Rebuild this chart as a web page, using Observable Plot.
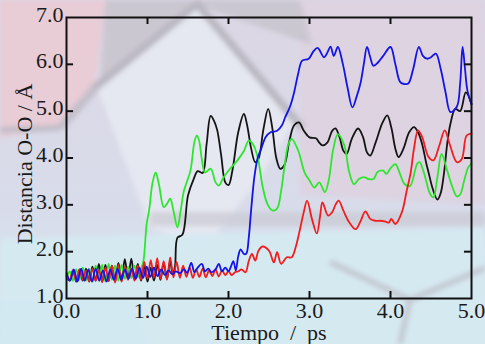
<!DOCTYPE html>
<html><head><meta charset="utf-8">
<script src="https://cdn.jsdelivr.net/npm/d3@7"></script>
<script src="https://cdn.jsdelivr.net/npm/@observablehq/plot@0.6"></script>
<style>
html,body{margin:0;padding:0;}
#wrap{position:relative;width:485px;height:344px;overflow:hidden;}
#decor{position:absolute;left:0;top:0;}
#chart{position:absolute;left:0;top:0;}
#chart svg, #chart svg text{font-family:'Liberation Serif','DejaVu Serif',serif !important;font-size:22px !important;fill:#1a1a1a;}
</style></head>
<body>
<div id="wrap">
<svg id="decor" width="485" height="344" xmlns="http://www.w3.org/2000/svg">
  <defs>
    <linearGradient id="bg" x1="0" y1="0" x2="0" y2="1">
      <stop offset="0" stop-color="#dcd6e4"/>
      <stop offset="0.6" stop-color="#d8dcea"/>
      <stop offset="1" stop-color="#d4e8f0"/>
    </linearGradient>
    <filter id="bl"><feGaussianBlur stdDeviation="2.5"/></filter>
  </defs>
  <rect width="485" height="344" fill="url(#bg)"/>
  <g filter="url(#bl)">
    <polygon points="0,0 105,0 95,85 55,128 0,138" fill="#e8ccd6"/>
    <polygon points="300,0 485,0 485,205 300,195" fill="#ddd3e1"/>
    <polygon points="105,0 300,0 312,45 200,6 100,88" fill="#cbc7d1"/>
    <polygon points="97,88 197,6 295,122 255,185 205,248 150,228" fill="#e5e7f1"/>
    <polyline points="92,90 197,4 302,128" fill="none" stroke="#b9b7c1" stroke-width="8"/>
    <polyline points="60,128 95,88" fill="none" stroke="#c3bfca" stroke-width="8"/>
    <rect x="150" y="212" width="335" height="14" fill="#c9c9d2" opacity="0.7"/>
    <polygon points="0,238 485,228 485,344 0,344" fill="#d5e9f1"/>
    <polygon points="0,300 130,300 150,344 0,344" fill="#d2e9f2"/>
    <polyline points="330,262 410,300 485,268" fill="none" stroke="#c4c8d0" stroke-width="6"/>
    <polyline points="410,300 400,344" fill="none" stroke="#c4c8d0" stroke-width="6"/>
    <polyline points="0,130 60,128" fill="none" stroke="#c0bcc8" stroke-width="6"/>
  </g>
</svg>
<div id="chart"></div>
</div>
<script>
const xTicks = [0, 1, 2, 3, 4, 5];
const yTicks = [1, 2, 3, 4, 5, 6, 7];
const xTitle = "Tiempo\u00a0\u00a0/\u00a0\u00a0ps";
const yTitle = "Distancia O-O / Å";

const black = [[0.00,1.48],[0.04,1.38],[0.08,1.60],[0.12,1.36],[0.16,1.62],[0.20,1.38],[0.24,1.64],[0.28,1.36],[0.32,1.68],[0.36,1.38],[0.40,1.74],[0.44,1.35],[0.48,1.72],[0.52,1.37],[0.56,1.70],[0.60,1.36],[0.64,1.76],[0.68,1.40],[0.72,1.84],[0.76,1.42],[0.80,1.85],[0.84,1.40],[0.88,1.74],[0.92,1.38],[0.96,1.70],[1.00,1.36],[1.04,1.66],[1.08,1.38],[1.12,1.72],[1.16,1.40],[1.20,1.76],[1.24,1.42],[1.28,1.80],[1.31,1.52],[1.34,1.70],[1.37,2.30],[1.43,2.36],[1.50,3.20],[1.57,3.55],[1.62,3.72],[1.68,3.68],[1.73,4.30],[1.78,4.90],[1.82,4.80],[1.86,4.60],[1.91,4.05],[1.96,3.48],[2.00,3.42],[2.05,3.75],[2.12,4.55],[2.19,4.94],[2.23,4.70],[2.28,4.20],[2.33,3.91],[2.37,3.98],[2.43,4.60],[2.49,5.05],[2.54,4.65],[2.59,4.00],[2.64,3.77],[2.69,3.85],[2.75,4.35],[2.81,4.70],[2.87,4.76],[2.93,4.58],[3.00,4.44],[3.08,4.42],[3.12,4.33],[3.16,4.27],[3.22,4.33],[3.28,4.58],[3.32,4.63],[3.37,4.45],[3.42,4.15],[3.46,4.09],[3.52,4.40],[3.60,4.63],[3.66,4.45],[3.71,4.12],[3.75,4.05],[3.82,4.35],[3.90,4.75],[3.96,4.91],[4.01,4.65],[4.06,4.20],[4.10,4.02],[4.16,4.20],[4.23,4.55],[4.29,4.66],[4.34,4.55],[4.39,4.30],[4.44,3.90],[4.47,3.69],[4.52,3.35],[4.58,3.11],[4.62,3.25],[4.66,3.67],[4.70,4.30],[4.74,4.73],[4.80,5.05],[4.86,5.00],[4.93,5.40],[5.00,5.15]];

const green = [[0.00,1.42],[0.04,1.58],[0.08,1.38],[0.12,1.62],[0.16,1.40],[0.20,1.66],[0.24,1.38],[0.28,1.64],[0.32,1.36],[0.36,1.70],[0.40,1.38],[0.44,1.72],[0.48,1.36],[0.52,1.74],[0.56,1.40],[0.60,1.70],[0.64,1.38],[0.68,1.72],[0.72,1.42],[0.76,1.68],[0.80,1.44],[0.84,1.70],[0.88,1.46],[0.92,1.62],[0.95,1.80],[0.99,2.60],[1.02,2.88],[1.06,3.45],[1.10,3.69],[1.14,3.45],[1.20,2.95],[1.24,3.02],[1.28,3.13],[1.32,2.88],[1.37,2.52],[1.41,2.88],[1.45,3.30],[1.53,3.73],[1.58,4.35],[1.61,4.48],[1.64,4.35],[1.67,3.98],[1.71,3.69],[1.78,3.77],[1.84,3.48],[1.88,3.41],[1.94,3.59],[2.02,3.77],[2.11,3.95],[2.19,4.15],[2.25,4.37],[2.30,4.30],[2.36,4.02],[2.42,3.40],[2.48,3.02],[2.54,2.88],[2.60,2.92],[2.65,3.30],[2.69,3.80],[2.74,4.30],[2.78,4.41],[2.86,4.16],[2.94,3.69],[3.00,3.52],[3.06,3.37],[3.12,3.48],[3.19,3.27],[3.24,3.55],[3.29,4.16],[3.35,4.51],[3.43,4.27],[3.49,3.70],[3.55,3.44],[3.61,3.55],[3.67,3.59],[3.73,3.55],[3.79,3.55],[3.84,3.70],[3.91,3.73],[3.95,3.66],[4.00,3.78],[4.06,3.87],[4.12,3.65],[4.17,3.45],[4.24,3.40],[4.33,3.88],[4.36,3.91],[4.41,3.70],[4.49,3.23],[4.53,3.16],[4.58,3.60],[4.63,4.09],[4.70,3.73],[4.76,3.40],[4.82,3.18],[4.86,3.22],[4.91,3.52],[4.96,3.80],[5.00,3.88]];

const red = [[0.00,1.50],[0.04,1.40],[0.08,1.60],[0.12,1.38],[0.16,1.62],[0.20,1.40],[0.24,1.60],[0.28,1.36],[0.32,1.64],[0.36,1.38],[0.40,1.60],[0.44,1.36],[0.48,1.66],[0.52,1.38],[0.56,1.70],[0.60,1.34],[0.64,1.72],[0.68,1.36],[0.72,1.68],[0.76,1.40],[0.80,1.64],[0.84,1.38],[0.88,1.70],[0.92,1.40],[0.96,1.78],[1.00,1.42],[1.04,1.82],[1.08,1.44],[1.12,1.86],[1.16,1.42],[1.20,1.80],[1.24,1.40],[1.28,1.88],[1.32,1.45],[1.36,1.78],[1.40,1.44],[1.44,1.70],[1.48,1.46],[1.52,1.66],[1.56,1.44],[1.60,1.62],[1.64,1.46],[1.68,1.64],[1.72,1.45],[1.76,1.60],[1.80,1.48],[1.84,1.62],[1.88,1.47],[1.92,1.60],[1.96,1.50],[2.00,1.58],[2.04,1.50],[2.08,1.56],[2.12,1.58],[2.16,1.62],[2.21,1.56],[2.25,1.80],[2.29,1.95],[2.33,1.81],[2.37,2.02],[2.42,2.11],[2.50,2.02],[2.56,1.77],[2.60,1.99],[2.65,1.74],[2.72,1.88],[2.78,1.88],[2.83,2.10],[2.87,2.38],[2.93,2.85],[2.97,3.09],[3.03,2.70],[3.09,2.39],[3.13,2.75],[3.16,3.05],[3.23,2.77],[3.28,2.84],[3.32,3.00],[3.36,3.09],[3.42,2.87],[3.49,2.63],[3.57,2.48],[3.63,2.65],[3.69,2.86],[3.75,2.70],[3.81,2.66],[3.87,2.66],[3.94,2.64],[3.98,2.62],[4.01,2.70],[4.06,2.59],[4.14,2.84],[4.20,3.30],[4.25,3.70],[4.29,4.20],[4.34,4.59],[4.39,4.45],[4.47,4.02],[4.53,3.95],[4.60,4.25],[4.67,4.59],[4.73,4.30],[4.82,3.91],[4.88,3.98],[4.94,4.48],[5.00,4.52]];

const blue = [[0.00,1.55],[0.045,1.38],[0.09,1.62],[0.135,1.36],[0.18,1.64],[0.225,1.38],[0.27,1.62],[0.315,1.36],[0.36,1.64],[0.405,1.38],[0.45,1.60],[0.495,1.36],[0.54,1.62],[0.585,1.40],[0.63,1.64],[0.675,1.40],[0.72,1.62],[0.765,1.42],[0.81,1.64],[0.855,1.42],[0.90,1.66],[0.945,1.44],[0.99,1.68],[1.035,1.46],[1.08,1.66],[1.125,1.48],[1.17,1.62],[1.215,1.50],[1.26,1.60],[1.305,1.52],[1.35,1.58],[1.40,1.54],[1.45,1.62],[1.49,1.55],[1.54,1.76],[1.58,1.56],[1.62,1.66],[1.67,1.74],[1.71,1.58],[1.75,1.64],[1.79,1.56],[1.84,1.62],[1.88,1.74],[1.92,1.58],[1.96,1.66],[2.00,1.58],[2.03,1.68],[2.06,1.80],[2.09,1.60],[2.12,1.90],[2.15,2.05],[2.19,1.95],[2.22,1.96],[2.25,2.30],[2.28,2.90],[2.32,3.60],[2.36,4.00],[2.40,4.18],[2.46,4.45],[2.52,4.55],[2.60,4.58],[2.66,4.70],[2.70,4.87],[2.76,5.10],[2.81,5.40],[2.86,5.80],[2.91,6.08],[2.99,6.12],[3.05,6.28],[3.10,6.35],[3.18,6.15],[3.22,6.25],[3.26,6.38],[3.30,6.18],[3.35,6.37],[3.41,6.02],[3.47,5.50],[3.53,5.08],[3.58,5.30],[3.63,5.60],[3.67,6.00],[3.71,6.37],[3.75,6.15],[3.79,5.97],[3.85,6.05],[3.91,6.18],[4.00,6.37],[4.06,6.00],[4.12,5.62],[4.17,5.58],[4.22,5.59],[4.28,5.90],[4.35,6.37],[4.40,6.18],[4.45,6.12],[4.50,6.15],[4.56,6.23],[4.62,5.90],[4.68,5.40],[4.74,4.98],[4.82,5.10],[4.86,5.60],[4.89,6.37],[4.92,5.90],[4.95,5.44],[5.00,5.15]];

const seriesList = [
  {data: black, color: "#141414"},
  {data: green, color: "#2ee62e"},
  {data: red, color: "#f01e1e"},
  {data: blue, color: "#1414e6"}
];

const fmt = d3.format(".1f");
const innerTicksX = xTicks.slice(1, -1);
const innerTicksY = yTicks.slice(1, -1);

const chart = Plot.plot({
  width: 485,
  height: 344,
  marginLeft: 66,
  marginRight: 14,
  marginTop: 17,
  marginBottom: 46,
  x: {domain: [0, 5]},
  y: {domain: [1, 7]},
  style: {background: "transparent", fontFamily: "'Liberation Serif', 'DejaVu Serif', serif", fontSize: "22px", color: "#1a1a1a", overflow: "visible"},
  marks: [
    ...seriesList.map(s => Plot.line(s.data, {x: d => d[0], y: d => d[1], stroke: s.color, strokeWidth: 1.8, curve: "catmull-rom"})),
    Plot.ruleX(innerTicksX, {y1: 1, y2: 1.15, stroke: "#111", strokeWidth: 2}),
    Plot.ruleX(innerTicksX, {y1: 6.85, y2: 7, stroke: "#111", strokeWidth: 2}),
    Plot.ruleY(innerTicksY, {x1: 0, x2: 0.087, stroke: "#111", strokeWidth: 2}),
    Plot.ruleY(innerTicksY, {x1: 4.913, x2: 5, stroke: "#111", strokeWidth: 2}),
    Plot.frame({stroke: "#111", strokeWidth: 2}),
    Plot.axisX(xTicks, {tickSize: 0, tickPadding: 4, tickFormat: fmt, label: null, fontSize: 22}),
    Plot.axisY(yTicks, {tickSize: 0, tickPadding: 3, tickFormat: fmt, label: null, fontSize: 22, dy: -3}),
    Plot.text([xTitle], {frameAnchor: "bottom", dy: 41, lineAnchor: "bottom", fontSize: 22}),
    Plot.text([yTitle], {frameAnchor: "left", textAnchor: "middle", dx: -35, dy: 6, rotate: -90, lineAnchor: "bottom", fontSize: 22})
  ]
});
document.getElementById("chart").appendChild(chart);
</script>
</body></html>
